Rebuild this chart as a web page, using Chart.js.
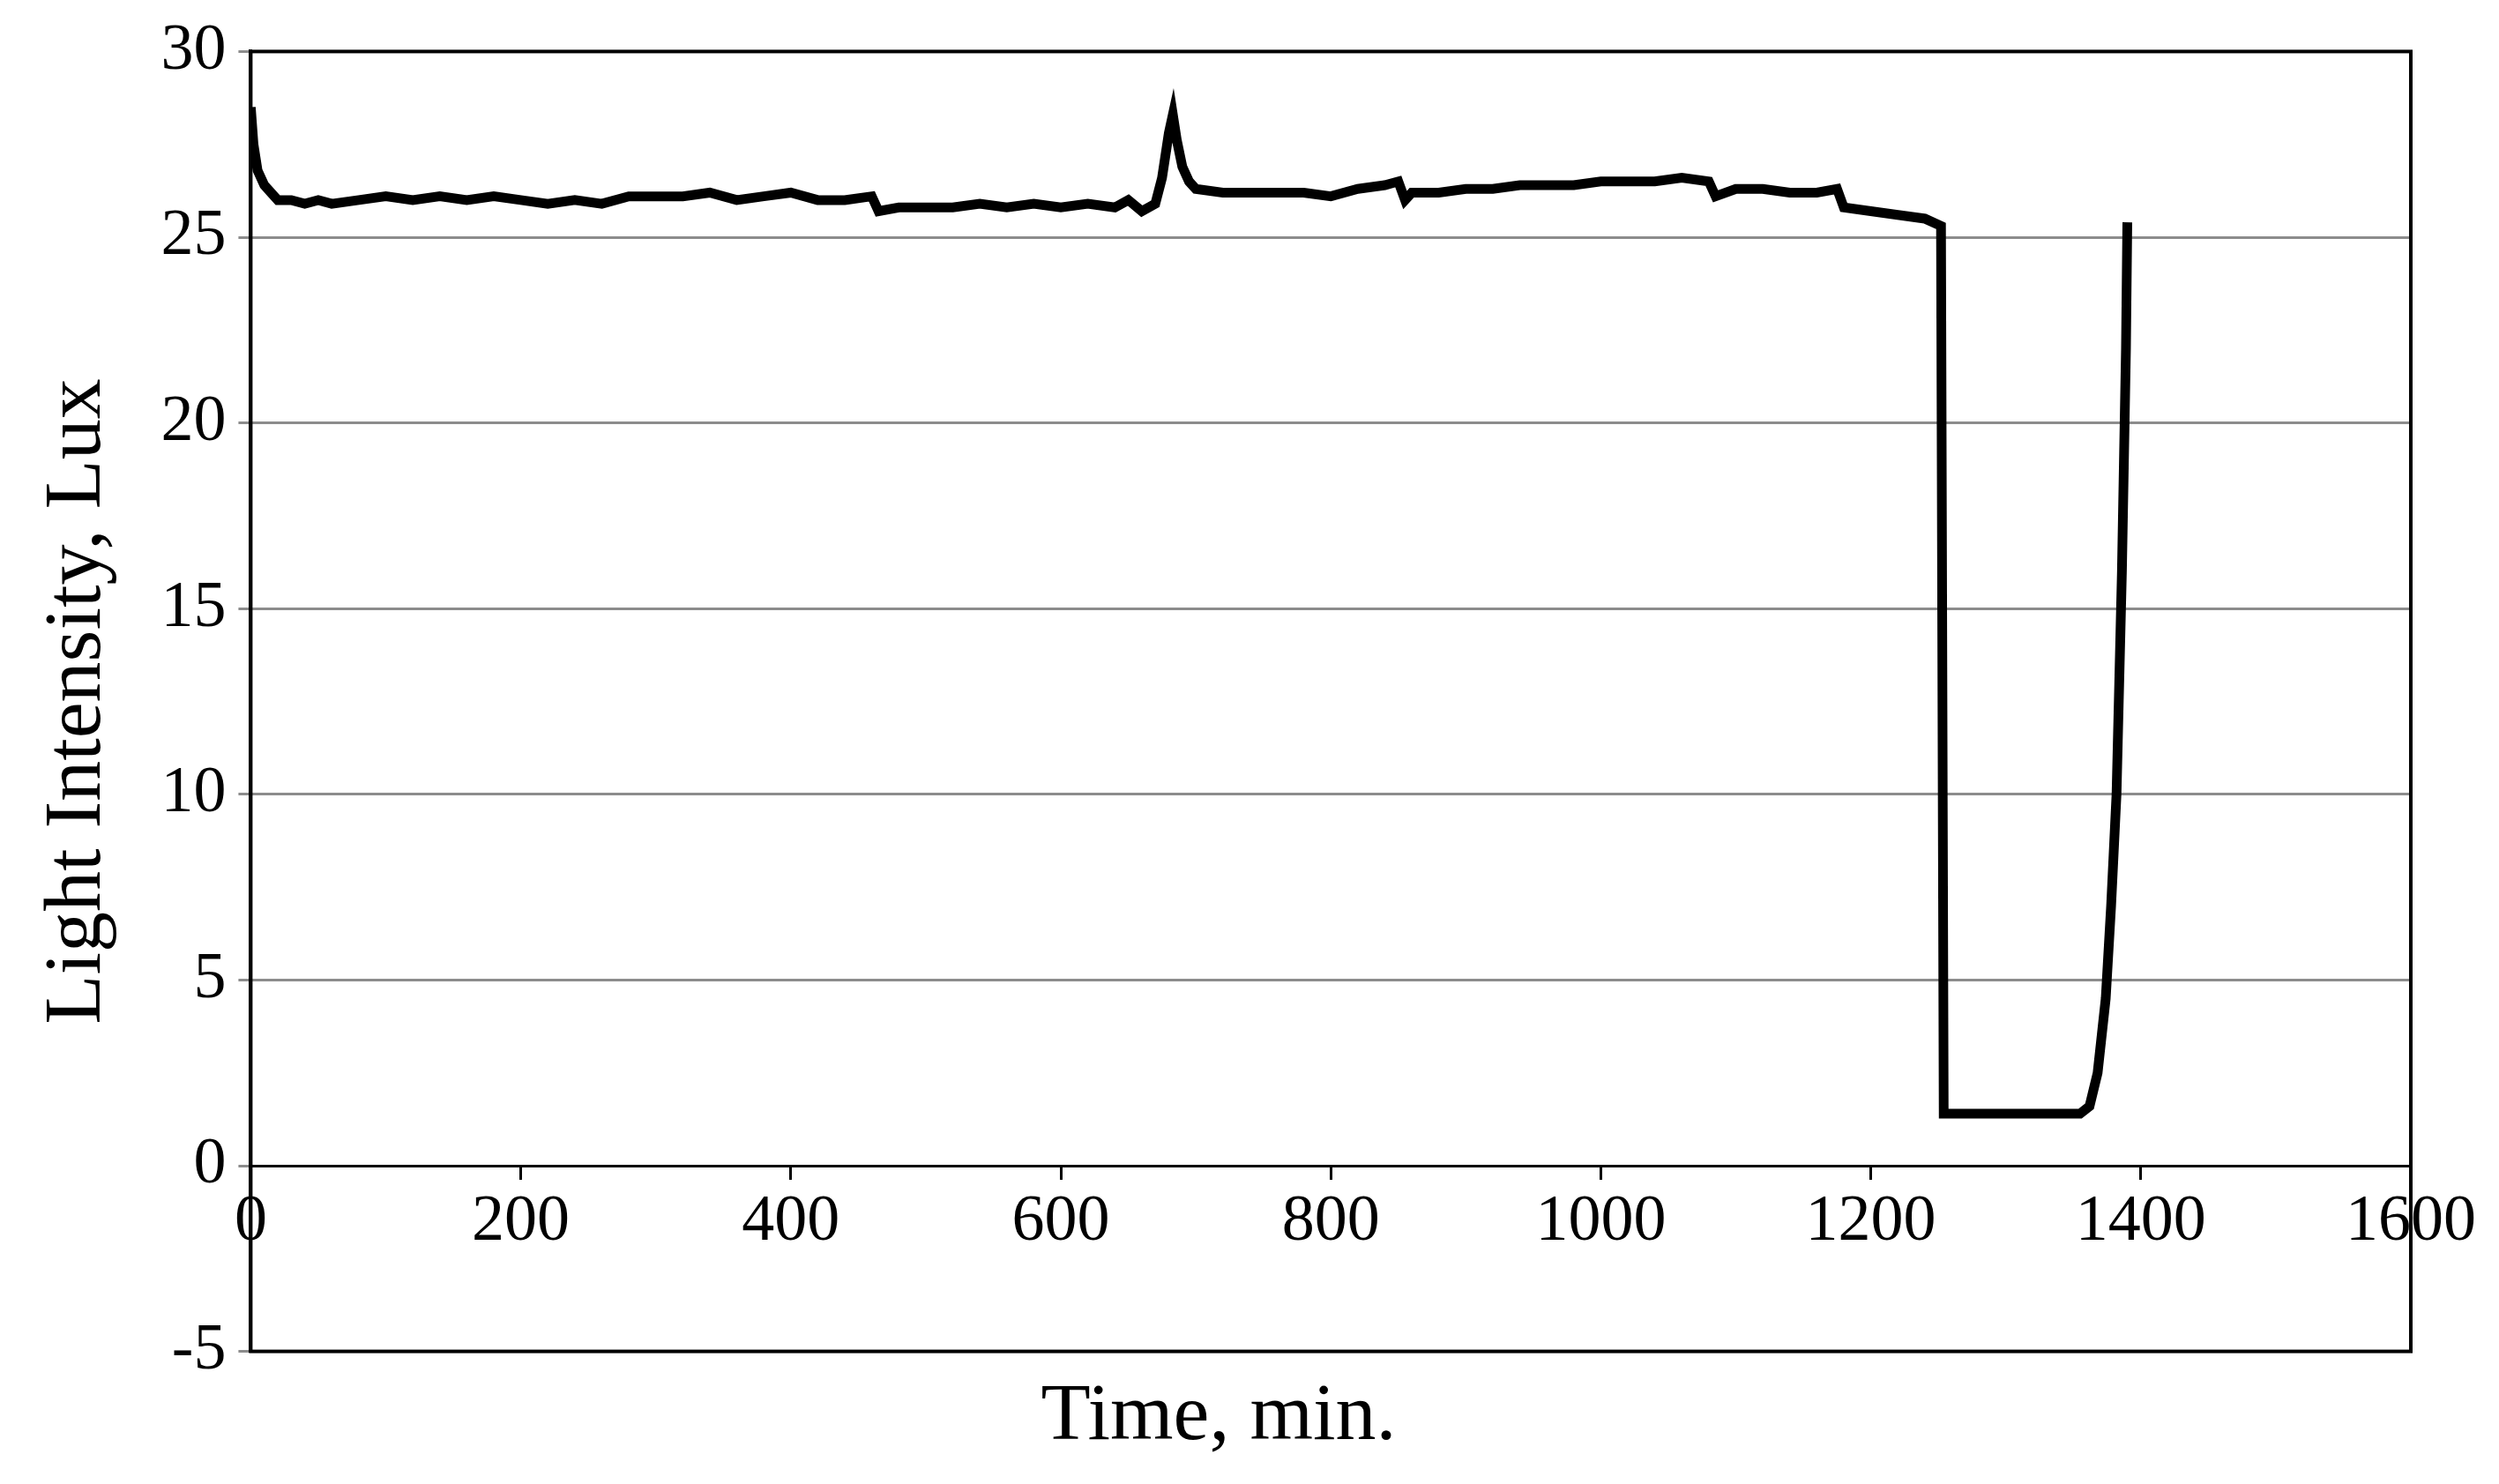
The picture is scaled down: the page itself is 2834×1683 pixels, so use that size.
<!DOCTYPE html>
<html>
<head>
<meta charset="utf-8">
<script src="https://cdn.jsdelivr.net/npm/chart.js@4/dist/chart.umd.min.js"></script>
<style>
body { margin: 0; background: #fff; }
#wrap { width: 2834px; height: 1683px; }
</style>
</head>
<body>
<div id="wrap"><canvas id="lightChart"></canvas></div>
<script>
// time in minutes
let timeMin = [0, 2, 5, 10, 15, 20, 30, 40, 50, 60, 80, 100, 120, 140, 160, 180, 200, 220, 240, 260, 280, 300, 320, 340, 360, 380, 400, 420, 440, 460, 465, 480, 500, 520, 540, 560, 580, 600, 620, 640, 650, 660, 670, 675, 680, 683, 686, 690, 695, 700, 720, 740, 760, 780, 800, 820, 840, 850, 855, 860, 880, 900, 920, 940, 960, 980, 1000, 1020, 1040, 1060, 1080, 1085, 1100, 1120, 1140, 1160, 1175, 1180, 1200, 1220, 1240, 1252, 1254, 1300, 1355, 1362, 1368, 1374, 1378, 1382, 1386, 1389, 1390];
// light intensity in lux
let lux = [28.5, 27.5, 26.8, 26.4, 26.2, 26.0, 26.0, 25.9, 26.0, 25.9, 26.0, 26.1, 26.0, 26.1, 26.0, 26.1, 26.0, 25.9, 26.0, 25.9, 26.1, 26.1, 26.1, 26.2, 26.0, 26.1, 26.2, 26.0, 26.0, 26.1, 25.7, 25.8, 25.8, 25.8, 25.9, 25.8, 25.9, 25.8, 25.9, 25.8, 26.0, 25.7, 25.9, 26.6, 27.8, 28.3, 27.6, 26.9, 26.5, 26.3, 26.2, 26.2, 26.2, 26.2, 26.1, 26.3, 26.4, 26.5, 26.0, 26.2, 26.2, 26.3, 26.3, 26.4, 26.4, 26.4, 26.5, 26.5, 26.5, 26.6, 26.5, 26.1, 26.3, 26.3, 26.2, 26.2, 26.3, 25.8, 25.7, 25.6, 25.5, 25.3, 1.4, 1.4, 1.4, 1.6, 2.5, 4.5, 7, 10, 16, 22, 25.4];
let xTicks = [0, 200, 400, 600, 800, 1000, 1200, 1400, 1600];
let yTicks = [-5, 0, 5, 10, 15, 20, 25, 30];

let points = timeMin.map(function (t, i) { return { x: t, y: lux[i] }; });

// black frame around the plot area
const frame = {
    id: "frame",
    afterDraw(chart) {
        const a = chart.chartArea;
        const c = chart.ctx;
        c.save();
        c.strokeStyle = "#000";
        c.lineWidth = 4;
        c.strokeRect(a.left, a.top, a.right - a.left, a.bottom - a.top);
        c.restore();
    }
};

const font = "'Liberation Serif', 'Times New Roman', serif";

new Chart(document.getElementById("lightChart"), {
    type: "scatter",
    data: {
        datasets: [{
            data: points,
            showLine: true,
            borderColor: "#000",
            borderWidth: 11,
            pointRadius: 0,
            tension: 0
        }]
    },
    options: {
        responsive: true,
        maintainAspectRatio: false,
        animation: false,
        layout: { padding: { top: 54, right: 100, left: 30, bottom: 20 } },
        plugins: {
            legend: { display: false },
            tooltip: { enabled: false },
            title: {
                display: true,
                position: "bottom",
                text: "Time, min.",
                color: "#000",
                font: { family: font, size: 92, weight: "normal" },
                padding: { top: 20, bottom: 0 }
            }
        },
        scales: {
            x: {
                type: "linear",
                position: { y: 0 },
                min: 0, max: 1600,
                afterBuildTicks: function (s) { s.ticks = xTicks.map(function (v) { return { value: v }; }); },
                ticks: { color: "#000", font: { family: font, size: 74 }, padding: 6, maxRotation: 0,
                    callback: function (v) { return String(v); } },
                grid: { display: true, drawOnChartArea: false, color: "#000", lineWidth: 3, tickLength: 14 },
                border: { color: "#000", width: 3 }
            },
            y: {
                min: -5, max: 30,
                afterBuildTicks: function (s) { s.ticks = yTicks.map(function (v) { return { value: v }; }); },
                ticks: { color: "#000", font: { family: font, size: 74 }, padding: 14 },
                grid: { color: "#8c8c8c", lineWidth: 3, tickLength: 14 },
                border: { color: "#000", width: 4 },
                title: {
                    display: true,
                    text: "Light Intensity, Lux",
                    color: "#000",
                    font: { family: font, size: 92 },
                    padding: { bottom: 24 }
                }
            }
        }
    },
    plugins: [frame]
});
</script>
</body>
</html>
